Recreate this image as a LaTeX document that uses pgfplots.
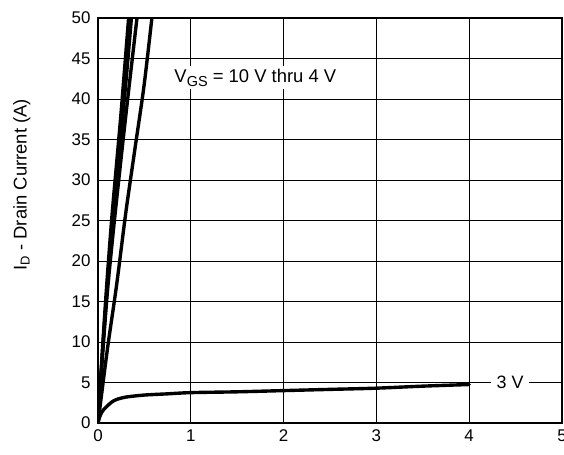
\documentclass[border=0pt]{standalone}
\usepackage{fontspec}
\setmainfont{Liberation Sans}
\usepackage{pgfplots}
\pgfplotsset{compat=1.18}
\tikzset{curve/.style={black, line width=3.4pt, line join=round, line cap=round, smooth, mark=none}}
\begin{document}
\begin{tikzpicture}
\begin{axis}[
  scale only axis, width=464bp, height=405bp,
  xmin=0, xmax=5, ymin=0, ymax=50,
  xtick={0,1,2,3,4,5}, ytick={0,5,...,50},
  grid=major, major grid style={black, line width=0.9pt},
  axis line style={line width=2.4pt},
  major tick length=0pt,
  tick label style={font=\fontsize{17}{19}\selectfont},
  /pgf/number format/assume math mode=true,
  xticklabel style={yshift=-3bp},
  yticklabel style={xshift=-4bp},
  ylabel={I\textsubscript{D} - Drain Current (A)},
  ylabel style={font=\fontsize{18.5}{20}\selectfont, at={(axis description cs:-0.164,0.588)}, anchor=center, rotate=0},
]
% VGS = 10 V
\addplot[curve] coordinates {(0,0) (0.05,9.5) (0.1,18) (0.15,25.5) (0.2,32) (0.25,38.5) (0.33,50) (0.36,54)};
% 8 V
\addplot[curve] coordinates {(0,0) (0.05,9) (0.1,17) (0.15,24) (0.2,30) (0.25,36) (0.3,42) (0.36,50) (0.39,54)};
% 6 V
\addplot[curve] coordinates {(0,0) (0.05,8.5) (0.1,16) (0.15,22) (0.2,27.5) (0.3,38) (0.42,50) (0.45,53)};
% 4 V
\addplot[curve] coordinates {(0,0) (0.1,9) (0.2,17) (0.3,26) (0.4,34) (0.5,42) (0.6,52)};
% 3 V
\addplot[curve] coordinates {(0,0) (0.02,0.8) (0.05,1.5) (0.1,2.1) (0.15,2.6) (0.2,2.9) (0.3,3.2) (0.5,3.45) (0.75,3.6) (1,3.75) (1.5,3.85) (2,4.0) (2.5,4.15) (3,4.3) (3.5,4.55) (4,4.75)};
\node[fill=white, inner sep=3pt, anchor=west, font=\fontsize{18.5}{20}\selectfont] at (axis cs:0.79,42.6)
  {V\raisebox{-0.35ex}{\fontsize{14.5}{15}\selectfont GS} = 10 V thru 4 V};
\node[fill=white, inner xsep=6pt, inner ysep=2pt, font=\fontsize{18}{20}\selectfont] at (axis cs:4.44,5) {3 V};
\end{axis}
\pgfresetboundingbox
\path ([xshift=-98bp,yshift=-32bp]current axis.south west) rectangle ([xshift=2bp,yshift=18bp]current axis.north east);
\end{tikzpicture}
\end{document}
